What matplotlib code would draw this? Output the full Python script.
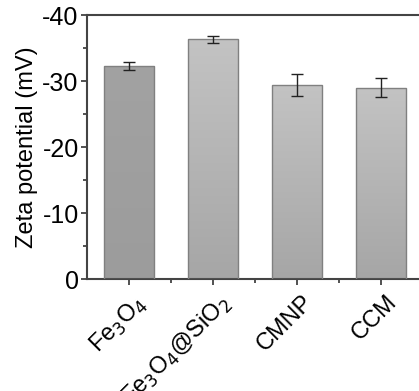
import numpy as np
import matplotlib
matplotlib.use('Agg')
import matplotlib.pyplot as plt
import matplotlib.transforms as mtransforms
from matplotlib.colors import LinearSegmentedColormap

plt.rcParams['font.family'] = ['Liberation Sans', 'DejaVu Sans']
plt.rcParams['axes.unicode_minus'] = False

samples = ['Fe$_3$O$_4$', 'Fe$_3$O$_4$@SiO$_2$', 'CMNP', 'CCM']
zeta = [-32.3, -36.3, -29.4, -29.0]
zeta_err = [0.65, 0.5, 1.7, 1.4]
top_grey = ['#a2a2a2', '#c3c3c3', '#c3c3c3', '#c3c3c3']
bottom_grey = ['#9c9c9c', '#a6a6a6', '#a6a6a6', '#a6a6a6']

fig = plt.figure(figsize=(4.19, 3.91), dpi=100)
ax = fig.add_axes([0.2076, 0.2864, 0.7924, 0.6752])

x = np.arange(len(samples))
bars = ax.bar(x, zeta, width=0.6, color='none', edgecolor='#808080', linewidth=1.0, zorder=3)
grad = np.linspace(0, 1, 256).reshape(-1, 1)
for b, c0, c1 in zip(bars, top_grey, bottom_grey):
    cm = LinearSegmentedColormap.from_list('g', [c0, c1])
    x0, y0 = b.get_x(), b.get_y()
    w, h = b.get_width(), b.get_height()
    im = ax.imshow(grad, cmap=cm, aspect='auto', origin='lower',
                   extent=[x0, x0 + w, y0 + h, y0], zorder=2)
    im.set_clip_path(b)
ax.errorbar(x, zeta, yerr=zeta_err, fmt='none', ecolor='#222222', elinewidth=1.0,
            capsize=4, capthick=1.0, zorder=4)

ax.set_xlim(-0.5, 3.45)
ax.set_ylim(0, -40)
ax.set_yticks([0, -10, -20, -30, -40])
ax.set_yticks([-5, -15, -25, -35], minor=True)
ax.set_xticks(x)
ax.set_xticks([0.5, 1.5, 2.5], minor=True)
ax.set_xticklabels([])
# rotated category labels, nudged right/down like the original
shift = mtransforms.ScaledTranslation(0.05, -0.12, fig.dpi_scale_trans)
for xi, lab in zip(x, samples):
    ax.text(xi, 0, lab, transform=ax.get_xaxis_transform() + shift, rotation=45,
            ha='right', va='top', rotation_mode='anchor', fontsize=17, clip_on=False)
ax.tick_params(axis='y', labelsize=18, direction='out', length=4, width=1.2, color='#333333', pad=2)
ax.tick_params(axis='x', direction='out', length=4, width=1.2, color='#333333')
ax.tick_params(which='minor', direction='out', length=3, width=1.2, color='#333333')
ax.set_ylabel('Zeta potential (mV)', fontsize=17, labelpad=3)

for s in ['left', 'bottom', 'top']:
    ax.spines[s].set_color('#444444')
    ax.spines[s].set_linewidth(1.5)
ax.spines['right'].set_visible(False)

fig.savefig('out.png', dpi=100)
